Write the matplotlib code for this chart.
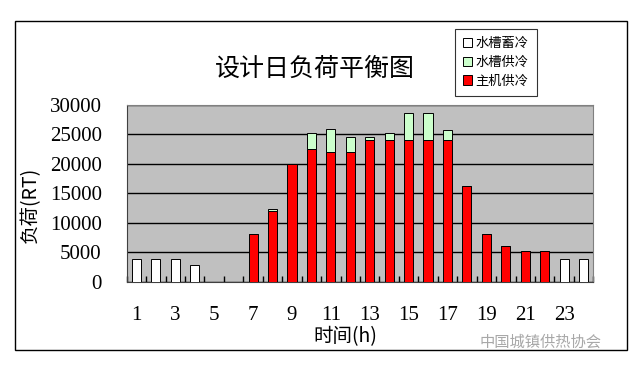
import matplotlib.pyplot as plt
import matplotlib.patches as patches
import numpy as np

plt.rcParams['font.family'] = ['Noto Sans CJK SC', 'DejaVu Sans']

hours = np.arange(1, 25)
# 水槽蓄冷 (tank charging)
tank_store = [3900, 3900, 3900, 2800, 0, 0, 0, 0, 0, 0, 0, 0,
              0, 0, 0, 0, 0, 0, 0, 0, 0, 0, 3900, 3900]
# 主机供冷 (chiller)
chiller = [0, 0, 0, 0, 0, 0, 8200, 12000, 20000, 22600, 22000, 22000,
           24000, 24000, 24000, 24000, 24000, 16200, 8200, 6100, 5200, 5200, 0, 0]
# 水槽供冷 (tank discharge), stacked on chiller
tank_supply = [0, 0, 0, 0, 0, 0, 0, 300, 0, 2700, 4000, 2500,
               500, 1300, 4600, 4600, 1700, 0, 0, 0, 0, 0, 0, 0]
legend_labels = ['水槽蓄冷', '水槽供冷', '主机供冷']

fig = plt.figure(figsize=(6.4, 3.72), dpi=100)
ax = fig.add_axes([0.198, 0.242, 0.729, 0.476])
ax.set_facecolor('#c0c0c0')

w = 0.47
b1 = ax.bar(hours, tank_store, w, color='white', edgecolor='black', linewidth=0.7, zorder=3)
b3 = ax.bar(hours, chiller, w, color='#ff0000', edgecolor='black', linewidth=0.7, zorder=3)
b2 = ax.bar(hours, tank_supply, w, bottom=chiller, color='#ccffcc', edgecolor='black', linewidth=0.7, zorder=3)

ax.set_xlim(0.5, 24.5)
ax.set_ylim(0, 30000)
ax.set_yticks(np.arange(0, 30001, 5000))
ax.yaxis.grid(True, color='black', linewidth=1, zorder=1)
ax.set_axisbelow(True)

ax.set_xticks(np.arange(1, 24, 2))
ax.set_xticks(np.arange(0.5, 25, 1), minor=True)
ax.tick_params(axis='x', which='major', length=0, pad=17)
ax.tick_params(axis='x', which='minor', direction='in', length=4, width=1, color='black')
ax.tick_params(axis='y', length=0, pad=18)
for lab in ax.get_xticklabels() + ax.get_yticklabels():
    lab.set_family('Liberation Serif')
    lab.set_fontsize(15)

for s in ax.spines.values():
    s.set_color('#808080')
ax.spines['bottom'].set_color('#404040')
ax.spines['left'].set_color('#404040')

fig.text(0.492, 0.815, '设计日负荷平衡图', fontsize=18, ha='center', va='center')
fig.text(0.047, 0.45, '负荷(RT)', fontsize=14, rotation=90, ha='center', va='center',
         family=['Noto Sans CJK SC', 'Liberation Serif'])
fig.text(0.54, 0.095, '时间(h)', fontsize=14, ha='center', va='center',
         family=['Noto Sans CJK SC', 'Liberation Serif'])

leg = fig.legend([b1, b2, b3], legend_labels, loc='upper left',
                 bbox_to_anchor=(0.7, 0.94), fontsize=9.5, frameon=True,
                 fancybox=False, handlelength=0.7, handleheight=0.7,
                 handletextpad=0.3, labelspacing=0.45, borderpad=0.6)
leg.get_frame().set_edgecolor('black')
leg.get_frame().set_linewidth(0.8)

fig.patches.append(patches.Rectangle((0.023, 0.059), 0.957, 0.885, transform=fig.transFigure,
                                     fill=False, edgecolor='black', linewidth=1))

fig.text(0.845, 0.08, '中国城镇供热协会', fontsize=11, color='#a8a8a8', ha='center', va='center')

fig.savefig('out.png', dpi=100)
